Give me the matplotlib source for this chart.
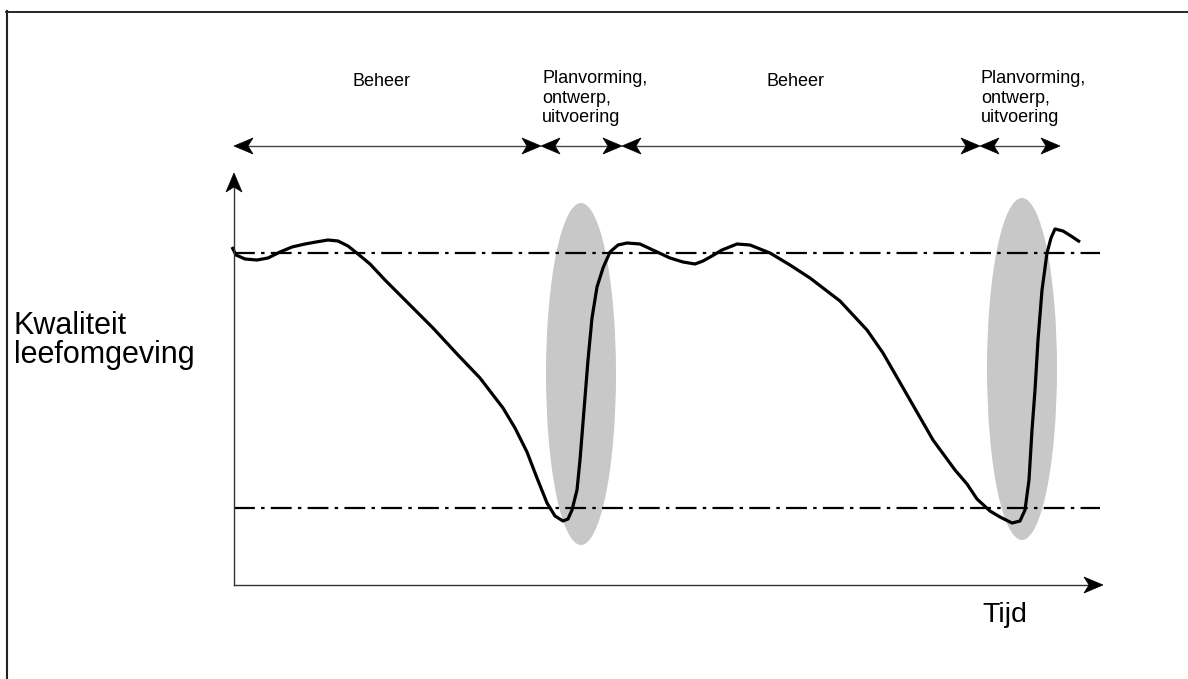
import matplotlib
matplotlib.use("Agg")
import matplotlib.pyplot as plt
from matplotlib.patches import Ellipse, Polygon
from matplotlib.lines import Line2D

plt.rcParams['font.family'] = ['Liberation Sans', 'DejaVu Sans']
plt.rcParams['lines.scale_dashes'] = False

# ---- data (arbitrary units: time, quality) ----
time = [-2, 2, 11, 23, 34, 46, 58, 71, 82, 94, 104, 114, 124, 136, 151, 171, 199,
        224, 246, 269, 281, 293, 303, 313, 321, 329, 334, 338, 343, 346, 350, 354,
        358, 363, 369, 376, 384, 393, 406, 421, 436, 449, 461, 469, 478, 488, 503,
        516, 536, 556, 576, 606, 633, 649, 672, 699, 721, 733, 743, 756, 766, 778,
        786, 791, 795, 798, 801, 804, 808, 813, 817, 821, 829, 837, 846]
quality = [338, 330, 326, 325, 327, 333, 338, 341, 343, 345, 344, 339, 331, 321,
           305, 285, 257, 230, 207, 177, 157, 133, 107, 82, 69, 64, 66, 75, 95, 125,
           175, 225, 267, 298, 317, 333, 340, 342, 341, 334, 327, 323, 321, 324, 329,
           335, 341, 340, 332, 320, 307, 284, 255, 232, 192, 145, 115, 101, 86, 74,
           68, 62, 64, 75, 105, 155, 195, 245, 295, 332, 347, 356, 354, 349, 343]

upper_level = 332
lower_level = 77
level_end = 866

# intervention zones (centre time, centre quality, width, height)
zone_time = [347, 788]
zone_quality = [211, 216]
zone_width = [70, 70]
zone_height = [342, 342]

# phases along top
phase_bounds = [0, 307, 388, 746, 826]
phase_labels = ["Beheer", "Planvorming,\nontwerp,\nuitvoering",
                "Beheer", "Planvorming,\nontwerp,\nuitvoering"]
phase_y = 439

x_max = 869
y_max = 412

W, H = 1188, 679
fig = plt.figure(figsize=(W / 100, H / 100), dpi=100)
ax = fig.add_axes([234 / W, (H - 585) / H, x_max / W, y_max / H])
ax.set_xlim(0, x_max)
ax.set_ylim(0, y_max)
ax.axis('off')

# 1 data unit == 1 pixel in both directions, so arrowheads can be drawn as polygons
def head(tip, direction, length=19, half=8, notch=5):
    tx, ty = tip
    dx, dy = direction
    nx, ny = -dy, dx
    pts = [(tx, ty),
           (tx - dx * length + nx * half, ty - dy * length + ny * half),
           (tx - dx * (length - notch), ty - dy * (length - notch)),
           (tx - dx * length - nx * half, ty - dy * length - ny * half)]
    ax.add_patch(Polygon(pts, closed=True, facecolor='black', edgecolor='black',
                         lw=0.5, zorder=5, clip_on=False, joinstyle='miter'))

# zones
for cx, cy, w, h in zip(zone_time, zone_quality, zone_width, zone_height):
    ax.add_patch(Ellipse((cx, cy), w, h, facecolor='#c8c8c8', edgecolor='none', zorder=1))

# reference levels
dashdot = (0, (15, 4.5, 2.5, 4.5))
for lvl in (upper_level, lower_level):
    ax.plot([0, level_end], [lvl, lvl], color='black', lw=1.6, linestyle=dashdot, zorder=2)

# curve
ax.plot(time, quality, color='black', lw=2.3, solid_joinstyle='round',
        solid_capstyle='butt', zorder=3, clip_on=False)

# axes with arrows
ax.plot([0, x_max - 10], [0, 0], color='#333333', lw=1.0, zorder=4, clip_on=False)
head((x_max, 0), (1, 0))
ax.plot([0, 0], [0, y_max - 10], color='#333333', lw=1.0, zorder=4, clip_on=False)
head((0, y_max), (0, 1))

# phase arrows and labels
for i in range(len(phase_bounds) - 1):
    a, b = phase_bounds[i], phase_bounds[i + 1]
    ax.plot([a + 8, b - 8], [phase_y, phase_y], color='#444444', lw=1.0,
            zorder=4, clip_on=False)
    head((a, phase_y), (-1, 0))
    head((b, phase_y), (1, 0))
    lab = phase_labels[i]
    if '\n' in lab:
        ax.text(a + 1, 515, lab, ha='left', va='top', fontsize=13,
                linespacing=1.2, clip_on=False)
    else:
        ax.text((a + b) / 2 - 6, 503, lab, ha='center', va='center', fontsize=13,
                clip_on=False)

# axis labels (figure pixel positions)
def px(x, y):
    return x / W, 1 - y / H

fig.text(*px(14, 334), "Kwaliteit", ha='left', va='baseline', fontsize=22)
fig.text(*px(14, 363), "leefomgeving", ha='left', va='baseline', fontsize=22)
fig.text(*px(982, 615), "Tijd", ha='left', va='center', fontsize=20.5)

# frame lines
fig.add_artist(Line2D([6 / W, 1], [1 - 11.5 / H, 1 - 11.5 / H], color='black', lw=1.2))
fig.add_artist(Line2D([6.5 / W, 6.5 / W], [0, 1 - 11 / H], color='#222222', lw=1.5))

fig.savefig('out.png', dpi=100)
